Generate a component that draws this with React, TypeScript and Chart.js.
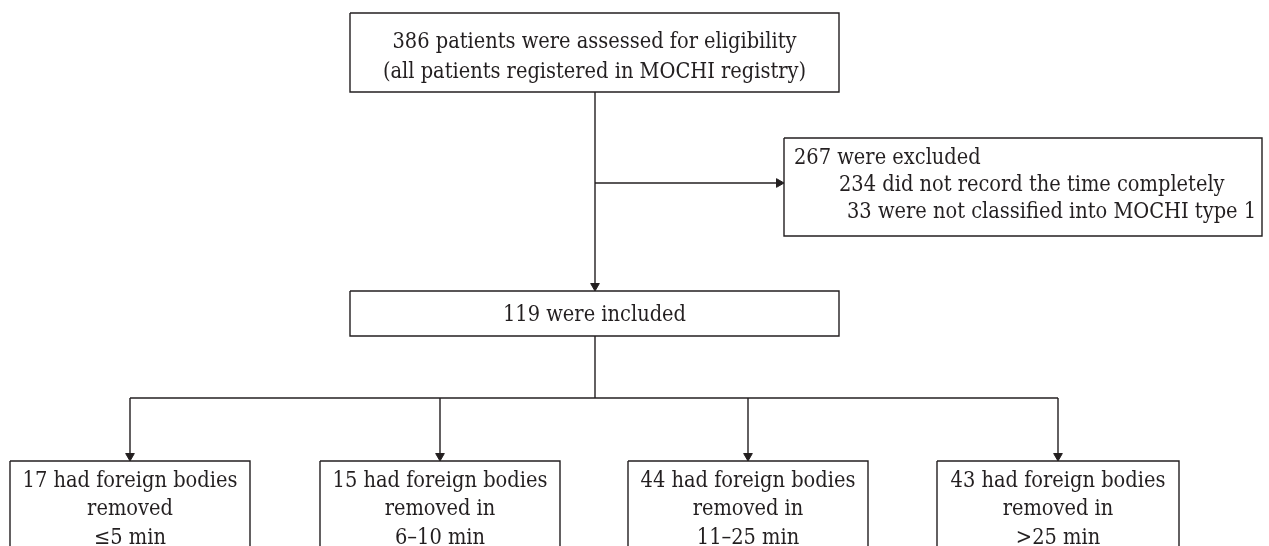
import React, { useEffect, useRef } from "react";
import { Chart, registerables } from "chart.js";

Chart.register(...registerables);

// ---- Content (text / counts) ----
const topLines = [
  "386 patients were assessed for eligibility",
  "(all patients registered in MOCHI registry)",
];
const excludedLines = [
  "267 were excluded",
  "234 did not record the time completely",
  "33 were not classified into MOCHI type 1",
];
const includedLines = ["119 were included"];
const groupCounts = [17, 15, 44, 43];
const groupVerb = ["removed", "removed in", "removed in", "removed in"];
const groupRanges = ["≤5 min", "6–10 min", "11–25 min", ">25 min"];

// ---- Layout (canvas units: 1 unit = 1 px) ----
const W = 1269;
const H = 546;
const TOP_BOX = { x1: 350, y1: 13, x2: 839, y2: 92 };
const EXCL_BOX = { x1: 784, y1: 138, x2: 1262, y2: 236 };
const INCL_BOX = { x1: 350, y1: 291, x2: 839, y2: 336 };
const GROUP_BOXES = [
  { x1: 10, x2: 250 },
  { x1: 320, x2: 560 },
  { x1: 628, x2: 868 },
  { x1: 937, x2: 1179 },
];
const GROUP_TOP = 461;
const GROUP_BOTTOM = 570;
const TRUNK_X = 595;
const BRANCH_Y = 183;
const SPLIT_Y = 398;
const ARROW_R = 5;

const TOP_BASELINES = [48, 78];
const EXCL_TEXT = [
  { x: 794, y: 164 },
  { x: 839, y: 191 },
  { x: 847, y: 218 },
];
const INCL_BASELINE = 321;
const GROUP_BASELINES = [487, 515, 544];

const INK = "#231f20";
const FONT = '21.6px "DejaVu Serif Condensed", "DejaVu Serif", "Liberation Serif", serif';

type P = { x: number; y: number };

function rect(b: { x1: number; y1: number; x2: number; y2: number }): P[] {
  return [
    { x: b.x1, y: b.y1 },
    { x: b.x2, y: b.y1 },
    { x: b.x2, y: b.y2 },
    { x: b.x1, y: b.y2 },
    { x: b.x1, y: b.y1 },
  ];
}

function lineDs(data: P[]) {
  return {
    type: "scatter" as const,
    data,
    showLine: true,
    borderColor: INK,
    borderWidth: 1.4,
    pointRadius: 0,
    pointHoverRadius: 0,
    fill: false,
    clip: false as any,
  };
}

export default function App() {
  const ref = useRef<HTMLCanvasElement | null>(null);

  useEffect(() => {
    if (!ref.current) return;
    document.body.style.margin = "0";

    const centers = GROUP_BOXES.map((b) => (b.x1 + b.x2) / 2);
    const groupRects = GROUP_BOXES.map((b) =>
      rect({ x1: b.x1, y1: GROUP_TOP, x2: b.x2, y2: GROUP_BOTTOM })
    );

    const connectors: P[][] = [
      [
        { x: TRUNK_X, y: TOP_BOX.y2 },
        { x: TRUNK_X, y: INCL_BOX.y1 - 2 },
      ],
      [
        { x: TRUNK_X, y: BRANCH_Y },
        { x: EXCL_BOX.x1 - 2, y: BRANCH_Y },
      ],
      [
        { x: TRUNK_X, y: INCL_BOX.y2 },
        { x: TRUNK_X, y: SPLIT_Y },
      ],
      [
        { x: centers[0], y: SPLIT_Y },
        { x: centers[3], y: SPLIT_Y },
      ],
      ...centers.map((cx) => [
        { x: cx, y: SPLIT_Y },
        { x: cx, y: GROUP_TOP - 2 },
      ]),
    ];

    const arrowPts: P[] = [
      { x: TRUNK_X, y: INCL_BOX.y1 - ARROW_R },
      { x: EXCL_BOX.x1 - ARROW_R, y: BRANCH_Y },
      ...centers.map((cx) => ({ x: cx, y: GROUP_TOP - ARROW_R })),
    ];
    const arrowRot = [180, 90, 180, 180, 180, 180];

    const textPlugin = {
      id: "flowText",
      afterDatasetsDraw(chart: any) {
        const ctx = chart.ctx as CanvasRenderingContext2D;
        const xs = chart.scales.x;
        const ys = chart.scales.y;
        const px = (v: number) => xs.getPixelForValue(v);
        const py = (v: number) => ys.getPixelForValue(v);
        ctx.save();
        ctx.fillStyle = INK;
        ctx.font = FONT;
        ctx.textBaseline = "alphabetic";

        ctx.textAlign = "center";
        const topCx = (TOP_BOX.x1 + TOP_BOX.x2) / 2;
        topLines.forEach((t, i) => ctx.fillText(t, px(topCx), py(TOP_BASELINES[i])));

        ctx.textAlign = "left";
        excludedLines.forEach((t, i) =>
          ctx.fillText(t, px(EXCL_TEXT[i].x), py(EXCL_TEXT[i].y))
        );

        ctx.textAlign = "center";
        const inCx = (INCL_BOX.x1 + INCL_BOX.x2) / 2;
        includedLines.forEach((t) => ctx.fillText(t, px(inCx), py(INCL_BASELINE)));

        groupCounts.forEach((n, i) => {
          const cx = centers[i];
          const lines = [`${n} had foreign bodies`, groupVerb[i], groupRanges[i]];
          lines.forEach((t, j) => ctx.fillText(t, px(cx), py(GROUP_BASELINES[j])));
        });
        ctx.restore();
      },
    };

    const chart = new Chart(ref.current, {
      type: "scatter",
      data: {
        datasets: [
          lineDs(rect(TOP_BOX)),
          lineDs(rect(EXCL_BOX)),
          lineDs(rect(INCL_BOX)),
          ...groupRects.map(lineDs),
          ...connectors.map(lineDs),
          {
            type: "scatter" as const,
            data: arrowPts,
            pointStyle: "triangle",
            pointRadius: ARROW_R,
            pointHoverRadius: ARROW_R,
            rotation: arrowRot,
            backgroundColor: INK,
            borderColor: INK,
            borderWidth: 1,
            clip: false as any,
          } as any,
        ],
      },
      options: {
        animation: false,
        responsive: true,
        maintainAspectRatio: false,
        events: [],
        layout: { padding: 0, autoPadding: false },
        scales: {
          x: { type: "linear", min: 0, max: W, display: false },
          y: { type: "linear", min: 0, max: H, reverse: true, display: false },
        },
        plugins: {
          legend: { display: false },
          tooltip: { enabled: false },
        },
      },
      plugins: [textPlugin],
    });

    return () => chart.destroy();
  }, []);

  return (
    <div
      style={{
        position: "fixed",
        left: 0,
        top: 0,
        width: W,
        height: H,
        background: "#ffffff",
      }}
    >
      <canvas ref={ref} />
    </div>
  );
}
